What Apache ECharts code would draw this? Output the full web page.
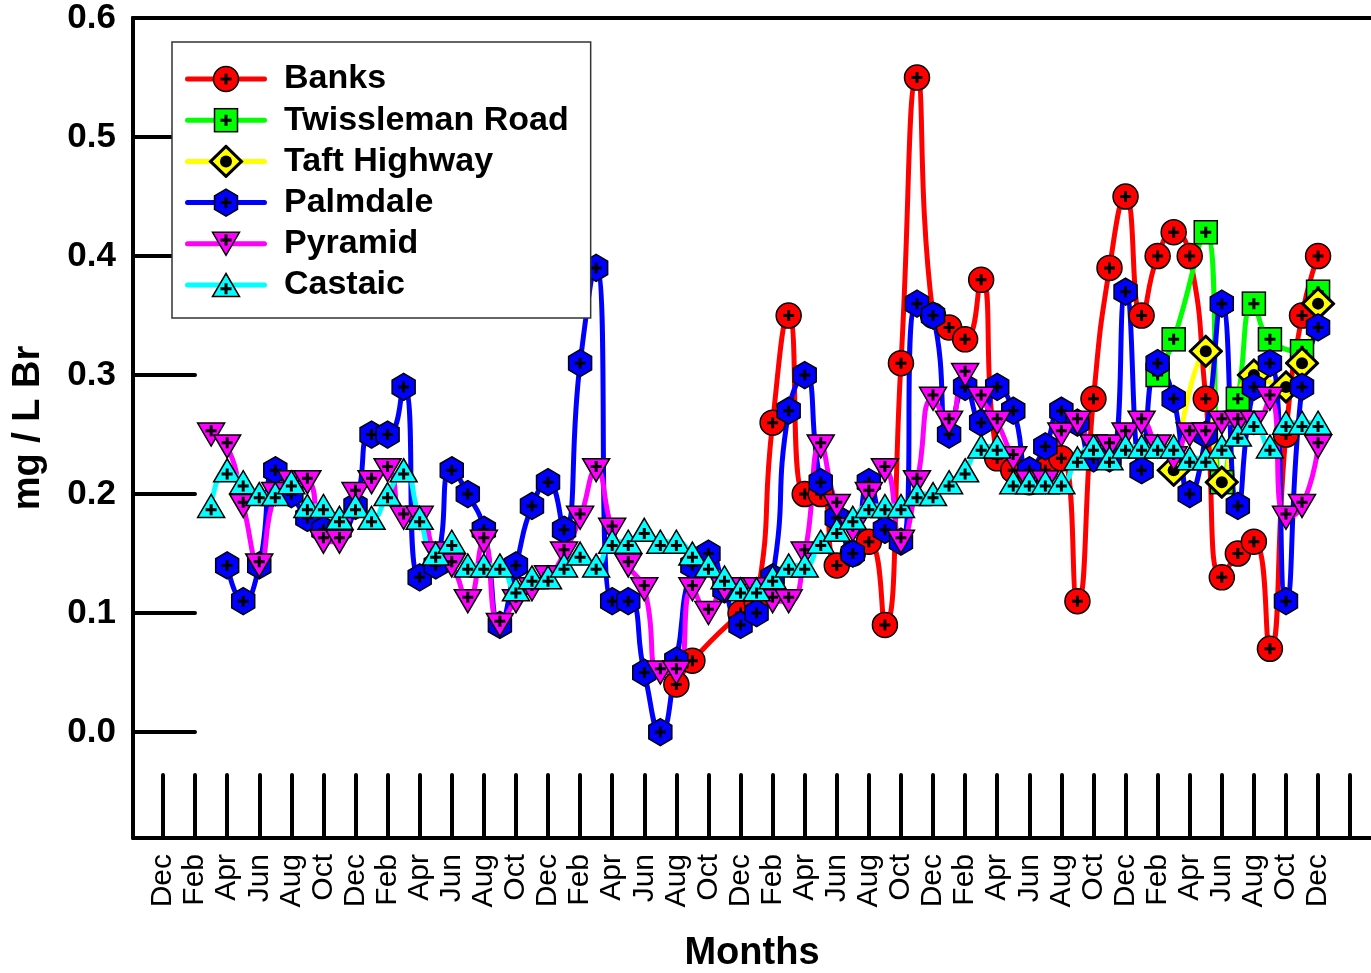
<!DOCTYPE html>
<html><head><meta charset="utf-8">
<script src="https://cdn.jsdelivr.net/npm/echarts@6/dist/echarts.min.js"></script>
<style>html,body{margin:0;padding:0;background:#fff}#c{width:1371px;height:973px}</style>
</head><body><div id="c"></div>
<script>
// ---- axis labels / ticks ----
const tickLabels = ['Dec','Feb','Apr','Jun','Aug','Oct','Dec','Feb','Apr','Jun','Aug','Oct',
  'Dec','Feb','Apr','Jun','Aug','Oct','Dec','Feb','Apr','Jun','Aug','Oct',
  'Dec','Feb','Apr','Jun','Aug','Oct','Dec','Feb','Apr','Jun','Aug','Oct','Dec'];
const yTicks = [0, 0.1, 0.2, 0.3, 0.4, 0.5, 0.6];

// ---- data: monthly values, month index 0 = first "Dec" label ----
const banksStart = 32;
const banks = [0.04,0.06,null,null,0.10,0.11,0.26,0.35,0.20,0.20,
  0.14,0.15,0.16,0.09,0.31,0.55,0.35,0.34,0.33,0.38,
  0.23,0.22,0.21,0.22,0.23,0.11,0.28,0.39,0.45,0.35,
  0.40,0.42,0.40,0.28,0.13,0.15,0.16,0.07,0.25,0.35,0.40];
const twisslemanStart = 62;
const twissleman = [0.30,0.33,null,0.42,0.21,0.28,0.36,0.33,null,0.32,0.37];
const taftStart = 63;
const taft = [0.22,null,0.32,0.21,null,0.30,null,0.29,0.31,0.36];
const palmdaleStart = 4;
const palmdale = [0.14,0.11,0.14,0.22,0.20,0.18,0.17,0.17,0.19,
  0.25,0.25,0.29,0.13,0.14,0.22,0.20,0.17,0.09,0.14,
  0.19,0.21,0.17,0.31,0.39,0.11,0.11,0.05,0.00,0.06,
  0.14,0.15,0.12,0.09,0.10,0.13,0.27,0.30,0.21,0.18,
  0.15,0.21,0.17,0.16,0.36,0.35,0.25,0.29,0.26,0.29,
  0.27,0.22,0.24,0.27,0.26,0.23,0.23,0.37,0.22,0.31,
  0.28,0.20,0.25,0.36,0.19,0.29,0.31,0.11,0.29,0.34];
const pyramidStart = 3;
const pyramid = [0.25,0.24,0.19,0.14,0.20,0.21,0.21,0.16,0.16,0.20,
  0.21,0.22,0.18,0.18,0.15,0.14,0.11,0.16,0.09,0.11,
  0.12,0.13,0.15,0.18,0.22,0.17,0.14,0.12,0.05,0.05,
  0.12,0.10,0.12,0.12,0.12,0.11,0.11,0.15,0.24,0.19,
  0.17,0.20,0.22,0.16,0.21,0.28,0.26,0.30,0.28,0.26,
  0.23,0.21,0.21,0.25,0.26,0.24,0.24,0.25,0.26,0.24,
  0.23,0.25,0.25,0.26,0.26,0.26,0.28,0.18,0.19,0.24];
const castaicStart = 3;
const castaic = [0.19,0.22,0.21,0.20,0.20,0.21,0.19,0.19,0.18,0.19,
  0.18,0.20,0.22,0.18,0.15,0.16,0.14,0.14,0.14,0.12,
  0.13,0.13,0.14,0.15,0.14,0.16,0.16,0.17,0.16,0.16,
  0.15,0.14,0.13,0.12,0.12,0.13,0.14,0.14,0.16,0.17,
  0.18,0.19,0.19,0.19,0.20,0.20,0.21,0.22,0.24,0.24,
  0.21,0.21,0.21,0.21,0.23,0.24,0.23,0.24,0.24,0.24,
  0.24,0.23,0.23,0.24,0.25,0.26,0.24,0.26,0.26,0.26];

// ---- styling ----
const FONT = '"Liberation Sans", Arial, Helvetica, sans-serif';
const SYM = {
  circle:{w:28,h:28}, square:{w:26,h:26}, diamond:{w:35,h:34},
  hexagon:{w:26,h:30}, down:{w:31,h:27}, up:{w:31,h:27}
};
function plus(x, y) {
  return `<path d="M${x-5.5} ${y}H${x+5.5}M${x} ${y-5.5}V${y+5.5}" stroke="#000" stroke-width="3" fill="none"/>`;
}
function shapeMarkup(kind, fill, cx, cy) {
  const st = `fill="${fill}" stroke="#000"`;
  switch (kind) {
    case 'circle':
      return `<circle cx="${cx}" cy="${cy}" r="12.5" ${st} stroke-width="1.5"/>` + plus(cx, cy);
    case 'square':
      return `<rect x="${cx-11.5}" y="${cy-11.5}" width="23" height="23" ${st} stroke-width="1.5"/>` + plus(cx, cy);
    case 'diamond':
      return `<polygon points="${cx},${cy-15} ${cx+15.5},${cy} ${cx},${cy+15} ${cx-15.5},${cy}" ${st} stroke-width="3"/>` +
             `<circle cx="${cx}" cy="${cy}" r="6" fill="#000"/>`;
    case 'hexagon':
      return `<polygon points="${cx},${cy-13.5} ${cx+11.5},${cy-6.75} ${cx+11.5},${cy+6.75} ${cx},${cy+13.5} ${cx-11.5},${cy+6.75} ${cx-11.5},${cy-6.75}" ${st} stroke-width="1.5"/>` + plus(cx, cy);
    case 'down':
      return `<polygon points="${cx-13.5},${cy-11.5} ${cx+13.5},${cy-11.5} ${cx},${cy+11.5}" ${st} stroke-width="1.5"/>` + plus(cx, cy-3.8);
    case 'up':
      return `<polygon points="${cx},${cy-11.5} ${cx+13.5},${cy+11.5} ${cx-13.5},${cy+11.5}" ${st} stroke-width="1.5"/>` + plus(cx, cy+3.8);
  }
}
function svgUri(w, h, body) {
  const svg = `<svg xmlns="http://www.w3.org/2000/svg" width="${w}" height="${h}" viewBox="0 0 ${w} ${h}">${body}</svg>`;
  return 'image://data:image/svg+xml;charset=utf-8,' + encodeURIComponent(svg);
}
function symbolUri(kind, color) {
  const s = SYM[kind];
  return svgUri(s.w, s.h, shapeMarkup(kind, color, s.w / 2, s.h / 2));
}
function legendUri(kind, color) {
  const w = 82, h = 34;
  return svgUri(w, h, `<line x1="2.5" y1="17" x2="79.5" y2="17" stroke="${color}" stroke-width="5" stroke-linecap="round"/>` +
    shapeMarkup(kind, color, 41, 17));
}

const seriesDefs = [
  {name:'Banks', start:banksStart, values:banks, color:'#FF0000', shape:'circle'},
  {name:'Twissleman Road', start:twisslemanStart, values:twissleman, color:'#00FF00', shape:'square'},
  {name:'Taft Highway', start:taftStart, values:taft, color:'#FFFF00', shape:'diamond'},
  {name:'Palmdale', start:palmdaleStart, values:palmdale, color:'#0000FF', shape:'hexagon'},
  {name:'Pyramid', start:pyramidStart, values:pyramid, color:'#FF00FF', shape:'down'},
  {name:'Castaic', start:castaicStart, values:castaic, color:'#00FFFF', shape:'up'}
];

const labelPositions = tickLabels.map((_, k) => 2 * k);
const tickPositions = labelPositions.concat([74]);
const X_MIN = -1.87, X_MAX = 75.3;

const chart = echarts.init(document.getElementById('c'), null, {renderer:'canvas'});
chart.setOption({
  animation: false,
  backgroundColor: '#fff',
  textStyle: {fontFamily: FONT},
  grid: {left:133, top:18, right:0, bottom:135, show:false, containLabel:false, outerBoundsMode:'none'},
  legend: {
    orient:'vertical', left:172, top:42,
    padding:[20,22,16,13],
    itemWidth:82, itemHeight:34, itemGap:7.2,
    backgroundColor:'#fff', borderColor:'#333', borderWidth:1.5,
    selectedMode:false,
    textStyle:{fontSize:34, fontWeight:'bold', color:'#000', fontFamily:FONT, padding:[0,0,0,12]},
    data: seriesDefs.map(d => ({name:d.name, icon:legendUri(d.shape, d.color)}))
  },
  xAxis: [{
    type:'value', min:X_MIN, max:X_MAX,
    name:'Months', nameLocation:'middle', nameGap:97,
    nameTextStyle:{fontSize:38, fontWeight:'bold', color:'#000', fontFamily:FONT},
    axisLine:{show:true, onZero:false, lineStyle:{color:'#000', width:4}},
    axisTick:{show:true, inside:true, length:63, customValues:tickPositions, lineStyle:{color:'#000', width:4, cap:'round'}},
    axisLabel:{customValues:labelPositions, rotate:90, margin:16, fontSize:30, color:'#000', fontFamily:FONT,
      formatter: v => tickLabels[Math.round(v / 2)]},
    splitLine:{show:false}
  }, {
    type:'value', min:X_MIN, max:X_MAX, position:'top',
    axisLine:{show:true, onZero:false, lineStyle:{color:'#000', width:4}},
    axisTick:{show:false}, axisLabel:{show:false}, splitLine:{show:false}
  }],
  yAxis: {
    type:'value', min:-0.089, max:0.6,
    name:'mg / L Br', nameLocation:'middle', nameGap:85, nameRotate:90,
    nameTextStyle:{fontSize:38, fontWeight:'bold', color:'#000', fontFamily:FONT},
    axisLine:{show:true, onZero:false, lineStyle:{color:'#000', width:4}},
    axisTick:{show:true, inside:true, length:62, customValues:yTicks, lineStyle:{color:'#000', width:4, cap:'round'}},
    axisLabel:{customValues:yTicks, margin:17, fontSize:35, fontWeight:'bold', color:'#000', fontFamily:FONT,
      formatter: v => v.toFixed(1)},
    splitLine:{show:false}
  },
  series: seriesDefs.map(d => ({
    name:d.name, type:'line', smooth:0.55, connectNulls:true, showAllSymbol:true,
    xAxisIndex:0,
    data: d.values.map((v, k) => [d.start + k, v]),
    symbol: symbolUri(d.shape, d.color),
    symbolSize: [SYM[d.shape].w, SYM[d.shape].h],
    lineStyle:{color:d.color, width:5},
    itemStyle:{color:d.color},
    emphasis:{disabled:true},
    silent:true
  }))
});
</script></body></html>
